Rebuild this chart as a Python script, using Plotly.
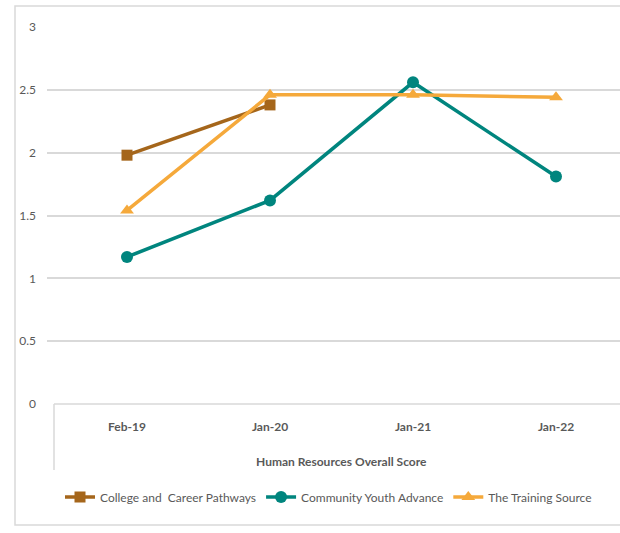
import plotly.graph_objects as go

# Survey dates along the category axis
categories = ["Feb-19", "Jan-20", "Jan-21", "Jan-22"]

# Human Resources overall scores per program
college_career = [1.98, 2.38, None, None]
community_youth = [1.17, 1.62, 2.56, 1.81]
training_source = [1.54, 2.46, 2.46, 2.44]

y_ticks = [0, 0.5, 1, 1.5, 2, 2.5, 3]
y_tick_text = ["0", "0.5", "1", "1.5", "2", "2.5", "3"]

axis_title = "Human Resources Overall Score"

FONT = "Lato, Open Sans, sans-serif"
GREY_TEXT = "#595959"
GRID = "#D9D9D9"

x_idx = list(range(len(categories)))

fig = go.Figure()

fig.add_trace(go.Scatter(
    x=x_idx, y=college_career, name="College and  Career Pathways",
    mode="lines+markers",
    line=dict(color="#A5661B", width=3.5),
    marker=dict(symbol="square", size=11, color="#A5661B"),
))
fig.add_trace(go.Scatter(
    x=x_idx, y=community_youth, name="Community Youth Advance",
    mode="lines+markers",
    line=dict(color="#00857E", width=3.5),
    marker=dict(symbol="circle", size=12, color="#00857E"),
))
fig.add_trace(go.Scatter(
    x=x_idx, y=training_source, name="The Training Source",
    mode="lines+markers",
    line=dict(color="#F5A93B", width=3.5),
    marker=dict(symbol="triangle-up", size=12, color="#F5A93B"),
))

W, H = 620, 533
L, R, T, B = 47, 0, 27, 129
pw = W - L - R
ph = H - T - B


def px_x(p):
    return (p - L) / pw


def px_y(p):
    return (H - B - p) / ph


shapes = [
    # outer chart border
    dict(type="rect", xref="paper", yref="paper",
         x0=px_x(15), x1=px_x(640), y0=px_y(525), y1=px_y(6),
         line=dict(color=GRID, width=1.5), fillcolor="rgba(0,0,0,0)", layer="below"),
    # category axis box
    dict(type="line", xref="paper", yref="paper",
         x0=px_x(54), x1=1.0, y0=0, y1=0,
         line=dict(color=GRID, width=1.5)),
    dict(type="line", xref="paper", yref="paper",
         x0=px_x(54), x1=px_x(54), y0=0, y1=px_y(470),
         line=dict(color=GRID, width=1.5)),
]

fig.update_layout(
    width=W, height=H,
    margin=dict(l=L, r=R, t=T, b=B),
    paper_bgcolor="white", plot_bgcolor="white",
    font=dict(family=FONT, size=12, color=GREY_TEXT),
    showlegend=True,
    legend=dict(orientation="h", x=px_x(60), xanchor="left",
                y=px_y(497), yanchor="middle",
                font=dict(family=FONT, size=12, color=GREY_TEXT),
                itemwidth=30, tracegroupgap=0, bgcolor="rgba(0,0,0,0)",
                entrywidth=0, borderwidth=0),
    xaxis=dict(
        range=[-0.5 - 8.5 / 143, 3.5 - 7.5 / 143],
        tickvals=x_idx, ticktext=["<b>%s</b>" % c for c in categories],
        showgrid=False, zeroline=False, showline=False, ticks="",
        ticklabelstandoff=14,
        tickfont=dict(family=FONT, size=12, color=GREY_TEXT),
        fixedrange=True,
    ),
    yaxis=dict(
        range=[0, 3], tickvals=y_ticks, ticktext=y_tick_text,
        showgrid=True, gridcolor=GRID, gridwidth=1.5,
        zeroline=False, showline=False, ticks="",
        ticklabelstandoff=10,
        tickfont=dict(family=FONT, size=12, color=GREY_TEXT),
        fixedrange=True,
    ),
    shapes=shapes,
    annotations=[dict(
        text="<b>%s</b>" % axis_title, xref="paper", yref="paper",
        x=px_x(341), y=px_y(461), xanchor="center", yanchor="middle",
        showarrow=False, font=dict(family=FONT, size=12, color=GREY_TEXT),
    )],
)

fig.write_html("out.html")
